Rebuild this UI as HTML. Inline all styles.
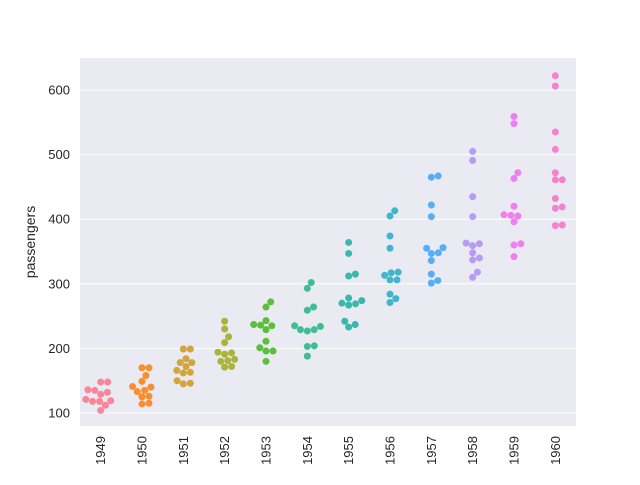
<!DOCTYPE html>
<html><head><meta charset="utf-8"><style>
body{margin:0;background:#fff;}
svg{font-family:"Liberation Sans","DejaVu Sans",sans-serif;}
</style></head><body>
<svg id="chart" width="640" height="480"></svg>
<script>
const years=["1949","1950","1951","1952","1953","1954","1955","1956","1957","1958","1959","1960"];
const p1949=[112,118,132,129,121,135,148,148,136,119,104,118];
const p1950=[115,126,141,135,125,149,170,170,158,133,114,140];
const p1951=[145,150,178,163,172,178,199,199,184,162,146,166];
const p1952=[171,180,193,181,183,218,230,242,209,191,172,194];
const p1953=[196,196,236,235,229,243,264,272,237,211,180,201];
const p1954=[204,188,235,227,234,264,302,293,259,229,203,229];
const p1955=[242,233,267,269,270,315,364,347,312,274,237,278];
const p1956=[284,277,317,313,318,374,413,405,355,306,271,306];
const p1957=[315,301,356,348,355,422,465,467,404,347,305,336];
const p1958=[340,318,362,348,363,435,491,505,404,359,310,337];
const p1959=[360,342,406,396,420,472,548,559,463,407,362,405];
const p1960=[417,391,419,461,472,535,622,606,508,461,390,432];
const series=[p1949,p1950,p1951,p1952,p1953,p1954,p1955,p1956,p1957,p1958,p1959,p1960];
const colors=['#f7869a','#f88e30','#d2a43a','#aab43a','#5cbe3a','#3cbf92','#3bb8ad','#40b6cc','#58aef6','#b69cf5','#ef7ff0','#f482d0'];
const yTicks=[100,200,300,400,500,600];

const NS="http://www.w3.org/2000/svg";
const svg=document.getElementById('chart');
const L=80,R=576,T=58,B=426;
const y=v=>413-(v-100)*(323/500);
const bw=(R-L)/years.length;
const x=i=>L+(i+0.5)*bw;
function mk(t,a){const e=document.createElementNS(NS,t);for(const k in a)e.setAttribute(k,a[k]);svg.appendChild(e);return e;}
let e=mk('rect',{x:L,y:T,width:R-L,height:B-T,fill:'#eaeaf2'});


yTicks.forEach(t=>{
  let g=mk('line',{x1:L,x2:R,y1:y(t),y2:y(t),stroke:'#fff','stroke-width':1});
  
  
  let tx=mk('text',{x:L-10,y:y(t)+4.5,'text-anchor':'end','font-size':13,fill:'#262626'});
  tx.textContent=t;
  
  
});
years.forEach((yr,i)=>{
  let tx=mk('text',{x:0,y:0,'text-anchor':'end','font-size':13,fill:'#262626',transform:`translate(${x(i)+4.5},${B+10}) rotate(-90)`});
  tx.textContent=yr;
  
  
});
let yl=mk('text',{x:0,y:0,'text-anchor':'middle','font-size':14,fill:'#262626',transform:`translate(35,${(T+B)/2}) rotate(-90)`});
yl.textContent='passengers';


const r=3.5,d=2*r;
series.forEach((vals,i)=>{
  const cx=x(i);
  const pts=vals.map(v=>({py:y(v)})).sort((a,b)=>b.py-a.py);
  const placed=[];
  pts.forEach(p=>{
    const cands=[0];
    placed.forEach(q=>{const dy=p.py-q.py;if(Math.abs(dy)<d){const dx=Math.sqrt(d*d-dy*dy);cands.push(q.px+dx,q.px-dx);}});
    cands.sort((a,b)=>Math.abs(a)-Math.abs(b));
    for(const c of cands){
      if(placed.every(q=>(q.px-c)**2+(q.py-p.py)**2>=d*d-0.01)){p.px=c;break;}
    }
    placed.push(p);
    let dot=mk('circle',{cx:cx+p.px,cy:p.py,r:r,fill:colors[i]});
    
    
  });
});
</script>
</body></html>
